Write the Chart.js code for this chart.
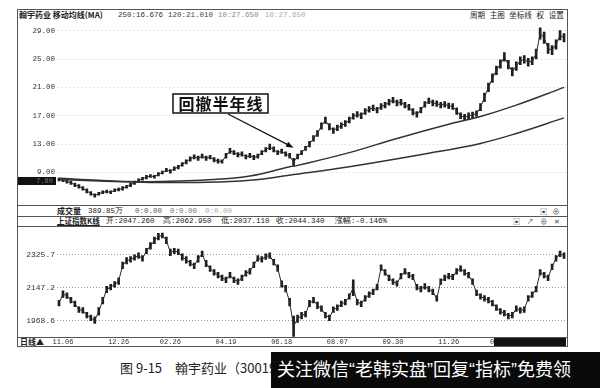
<!DOCTYPE html>
<html>
<head>
<meta charset="utf-8">
<script src="https://cdn.jsdelivr.net/npm/chart.js@4.4.1/dist/chart.umd.min.js"></script>
<style>
  body { margin: 0; width: 600px; height: 388px; background: #fff; position: relative; overflow: hidden;
         font-family: "Noto Sans CJK SC", sans-serif; color: #222; }
  .t { position: absolute; white-space: nowrap; line-height: 10px; }
  .m { font-family: "Liberation Mono", monospace; }
  .hl { position: absolute; left: 17px; width: 551px; height: 0; border-top: 1px solid #555; }
  canvas { position: absolute; }
</style>
</head>
<body>
<div style="position:absolute;left:17px;top:9px;width:551px;height:338px;border:1px solid #555;box-sizing:border-box"></div>
<div class="hl" style="top:205px"></div>
<div class="hl" style="top:216px"></div>
<div class="hl" style="top:226px"></div>
<div class="hl" style="top:337px"></div>

<!-- title row -->
<div class="t" style="left:19px;top:10px;font-size:8px;font-weight:bold">翰宇药业 移动均线(MA)</div>
<div class="t m" style="left:118px;top:10px;font-size:7.5px;color:#333">250:16.676</div>
<div class="t m" style="left:168px;top:10px;font-size:7.5px;color:#444">120:21.010</div>
<div class="t m" style="left:218px;top:10px;font-size:7.5px;color:#888">10:27.650</div>
<div class="t m" style="left:265px;top:10px;font-size:7.5px;color:#aaa">10:27.650</div>
<div class="t" style="left:470px;top:10px;font-size:7.5px;word-spacing:3px">周期 主图 坐标线 权 设置</div>

<!-- info rows -->
<div class="t" style="left:57px;top:206px;font-size:8px;font-weight:bold">成交量</div>
<div class="t m" style="left:88px;top:206px;font-size:7.5px">389.85万</div>
<div class="t m" style="left:135px;top:206px;font-size:7.5px;color:#555">0:0.00</div>
<div class="t m" style="left:170px;top:206px;font-size:7.5px;color:#777">0:0.00</div>
<div class="t m" style="left:205px;top:206px;font-size:7.5px;color:#aaa">0:0.00</div>
<div class="t" style="left:57px;top:216px;font-size:7.5px;font-weight:bold;text-decoration:underline">上证指数K线</div>
<div class="t m" style="left:106px;top:216px;font-size:7.5px">开:2047.260</div>
<div class="t m" style="left:163px;top:216px;font-size:7.5px">高:2062.950</div>
<div class="t m" style="left:221px;top:216px;font-size:7.5px">低:2037.110</div>
<div class="t m" style="left:276px;top:216px;font-size:7.5px">收:2044.340</div>
<div class="t m" style="left:335px;top:216px;font-size:7.5px">涨幅:-0.146%</div>
<div class="t" style="left:540px;top:206px;font-size:7px;color:#444;word-spacing:4px">▣ ⊕</div>
<div class="t" style="left:513px;top:216px;font-size:7px;color:#444;word-spacing:5px">▣ ↗ ⊕ ✕</div>

<!-- date row -->
<div class="t" style="left:20px;top:337px;font-size:8px;font-weight:bold">日线▲</div>

<canvas id="price" width="550" height="195" style="left:17px;top:10px"></canvas>
<canvas id="index" width="550" height="120" style="left:17px;top:226px"></canvas>
<div style="position:absolute;left:494px;top:338px;width:72px;height:8px;background:#111"></div>

<!-- caption -->
<div class="t" style="left:120px;top:361px;font-size:13px;line-height:14px">图 9-15　翰宇药业（300199）</div>
<div style="position:absolute;left:271px;top:352px;width:329px;height:36px;background:#0a0a0a;overflow:hidden">
  <div class="t" style="left:6px;top:8px;font-size:18px;line-height:20px;color:#fff;font-family:'Liberation Sans','Noto Sans CJK SC',sans-serif">关注微信“老韩实盘”回复“指标”免费领</div>
</div>

<script>
// trading-day slots across the panel
var N = 128;
var slots = Array.from({ length: N }, function (_, i) { return i; });

var dateTicks = ['11.06', '12.26', '02.26', '04.19', '06.18', '08.07', '09.30', '11.26', '01.13'];
var dateTickIdx = [1, 15, 28, 42, 56, 70, 84, 98, 111];

var priceTicks = [9, 13, 17, 21, 25, 29];
var indexTicks = [1968.6, 2147.2, 2325.7];

var priceHigh = [8.2, 8.1, 7.9, 7.8, 7.5, 7.3, 7.0, 6.7, 6.3, 6.0,
  6.2, 6.4, 6.5, 6.4, 6.7, 6.8, 7.0, 7.2, 7.5, 7.8,
  8.1, 8.3, 8.6, 8.7, 8.6, 9.0, 9.2, 9.6, 9.4, 9.8,
  10.0, 10.4, 10.8, 11.2, 11.5, 11.3, 11.6, 11.3, 11.4, 11.1,
  10.9, 10.8, 11.7, 12.4, 12.1, 11.8, 11.9, 11.5, 11.7, 11.4,
  11.6, 12.1, 12.5, 13.0, 12.6, 12.1, 12.3, 11.9, 11.7, 11.0,
  11.6, 12.1, 12.7, 13.4, 14.2, 14.9, 16.0, 16.8, 15.9, 15.3,
  15.7, 16.0, 16.3, 16.8, 17.3, 17.6, 17.4, 18.0, 18.3, 18.5,
  18.2, 18.7, 18.9, 19.3, 19.6, 19.2, 19.3, 18.9, 18.6, 18.0,
  17.6, 18.2, 19.0, 19.5, 19.2, 19.1, 18.9, 19.0, 18.8, 18.7,
  18.1, 17.4, 17.2, 17.4, 17.5, 17.7, 18.7, 20.2, 21.6, 22.9,
  24.0, 24.9, 25.9, 24.8, 23.8, 24.6, 25.3, 25.5, 25.1, 25.3,
  26.4, 29.4, 28.8, 27.2, 26.9, 27.7, 29.0, 28.6];
var priceLow = [7.8, 7.7, 7.5, 7.3, 7.0, 6.8, 6.5, 6.1, 5.8, 5.5,
  5.8, 6.0, 6.1, 6.0, 6.3, 6.4, 6.5, 6.8, 7.0, 7.3,
  7.7, 7.9, 8.1, 8.3, 8.2, 8.5, 8.8, 9.1, 8.9, 9.3,
  9.5, 9.9, 10.2, 10.6, 10.9, 10.7, 11.0, 10.7, 10.9, 10.5,
  10.3, 10.3, 11.0, 11.7, 11.5, 11.2, 11.3, 10.9, 11.1, 10.8,
  11.0, 11.5, 11.9, 12.2, 11.9, 11.5, 11.7, 11.3, 11.0, 9.9,
  10.9, 11.5, 12.1, 12.6, 13.4, 14.1, 15.1, 15.9, 15.0, 14.5,
  14.9, 15.2, 15.5, 16.0, 16.5, 16.8, 16.6, 17.2, 17.5, 17.7,
  17.4, 17.9, 18.1, 18.5, 18.8, 18.4, 18.5, 18.1, 17.8, 17.1,
  16.8, 17.4, 18.2, 18.7, 18.4, 18.3, 18.1, 18.2, 18.0, 17.9,
  17.2, 16.6, 16.4, 16.6, 16.7, 16.9, 17.7, 19.0, 20.4, 21.7,
  22.8, 23.7, 24.7, 23.6, 22.6, 23.4, 24.2, 24.4, 24.0, 24.2,
  25.0, 27.8, 27.2, 25.8, 25.6, 26.4, 27.7, 27.4];

// moving averages, read at a few slots
var ma120Idx = [0, 10, 20, 30, 39, 48, 58, 60, 73, 85, 98, 106, 115, 127];
var ma120 = [8.2, 7.9, 7.7, 7.8, 8.0, 8.5, 9.8, 10.0, 11.8, 13.8, 15.8, 16.9, 18.5, 21.0];
var ma250Idx = [0, 10, 23, 35, 48, 59, 73, 93, 106, 115, 127];
var ma250 = [8.0, 7.8, 7.6, 7.6, 7.9, 8.7, 9.8, 11.7, 13.1, 14.5, 16.7];

var markPrice = 7.80;
var noteIdx = 59, noteValue = 12.5;

var indexHigh = [2080, 2130, 2120, 2095, 2075, 2045, 2040, 2015, 2000, 1990,
  2040, 2095, 2155, 2165, 2180, 2200, 2285, 2310, 2315, 2325,
  2335, 2320, 2360, 2390, 2420, 2440, 2445, 2420, 2355, 2360,
  2355, 2330, 2315, 2295, 2280, 2320, 2345, 2295, 2265, 2245,
  2230, 2215, 2205, 2230, 2205, 2195, 2215, 2240, 2250, 2285,
  2320, 2315, 2330, 2335, 2300, 2270, 2185, 2160, 2090, 1995,
  2000, 2015, 2020, 2080, 2095, 2070, 2050, 2015, 2000, 2045,
  2055, 2075, 2085, 2115, 2190, 2085, 2075, 2105, 2125, 2140,
  2165, 2270, 2245, 2215, 2195, 2185, 2225, 2250, 2230, 2220,
  2165, 2155, 2170, 2155, 2140, 2105, 2195, 2215, 2225, 2220,
  2250, 2265, 2245, 2230, 2195, 2135, 2115, 2105, 2095, 2080,
  2055, 2035, 2025, 2010, 2015, 2050, 2040, 2045, 2105, 2125,
  2155, 2245, 2230, 2215, 2275, 2320, 2345, 2335];
var indexLow = [2050, 2095, 2090, 2065, 2045, 2015, 2010, 1985, 1970, 1955,
  2000, 2060, 2120, 2135, 2150, 2165, 2250, 2275, 2285, 2295,
  2305, 2290, 2330, 2355, 2385, 2405, 2415, 2385, 2320, 2330,
  2325, 2295, 2280, 2265, 2250, 2285, 2315, 2260, 2235, 2215,
  2200, 2185, 2175, 2200, 2175, 2165, 2185, 2210, 2220, 2255,
  2290, 2285, 2300, 2305, 2270, 2235, 2150, 2125, 2050, 1885,
  1960, 1980, 1990, 2045, 2065, 2035, 2020, 1985, 1970, 2015,
  2025, 2045, 2055, 2085, 2105, 2055, 2045, 2075, 2095, 2110,
  2135, 2240, 2215, 2185, 2165, 2155, 2195, 2220, 2200, 2190,
  2135, 2125, 2140, 2125, 2110, 2075, 2165, 2185, 2195, 2190,
  2220, 2235, 2215, 2200, 2165, 2105, 2085, 2075, 2065, 2050,
  2025, 2005, 1995, 1980, 1985, 2020, 2010, 2015, 2075, 2095,
  2125, 2215, 2200, 2185, 2245, 2290, 2315, 2305];

Chart.defaults.animation = false;
Chart.defaults.font.family = '"Liberation Mono", monospace';

function yAxis(min, max, ticks, digits, size, gridColor, dash) {
  return {
    min: min, max: max,
    afterFit: function (s) { s.width = 40; },
    afterBuildTicks: function (s) { s.ticks = ticks.map(function (v) { return { value: v }; }); },
    ticks: { padding: 2, color: '#333', font: { size: size }, callback: function (v) { return v.toFixed(digits); } },
    grid: { color: gridColor, drawTicks: false },
    border: { display: false, dash: dash }
  };
}

function maLine(idx, vals) {
  return {
    type: 'line',
    data: idx.map(function (x, k) { return { x: x, y: vals[k] }; }),
    borderColor: '#333', borderWidth: 1.5, pointRadius: 0, tension: 0.4, order: 1
  };
}

// candles: high-low bars plus a thin line through each bar's middle
function kDatasets(lo, hi) {
  return [
    { data: slots.map(function (i) { return [lo[i], hi[i]]; }),
      backgroundColor: '#1e1e1e', barThickness: 2, order: 3 },
    { type: 'line', data: slots.map(function (i) { return (lo[i] + hi[i]) / 2; }),
      borderColor: '#2a2a2a', borderWidth: 1, pointRadius: 0, order: 2 }
  ];
}

var halfYearNote = {
  id: 'halfYearNote',
  afterDatasetsDraw: function (chart) {
    var ctx = chart.ctx, x = chart.scales.x, y = chart.scales.y;
    ctx.save();
    // price marker on the axis
    var my = y.getPixelForValue(markPrice);
    ctx.fillStyle = '#111';
    ctx.fillRect(1, my - 4, 38, 8);
    ctx.fillStyle = '#777';
    ctx.font = '7px "Liberation Mono"';
    ctx.textAlign = 'right';
    ctx.textBaseline = 'middle';
    ctx.fillText(markPrice.toFixed(2), 36, my);

    // label box
    ctx.fillStyle = '#fff';
    ctx.fillRect(156, 84, 95, 19);
    ctx.strokeStyle = '#111';
    ctx.lineWidth = 1.5;
    ctx.strokeRect(156, 84, 95, 19);
    ctx.fillStyle = '#111';
    ctx.font = 'bold 16px "Noto Sans CJK SC"';
    ctx.textAlign = 'center';
    ctx.letterSpacing = '1px';
    ctx.fillText('回撤半年线', 204, 94);

    // arrow to the pullback
    var sx = 211, sy = 104;
    var tx = x.getPixelForValue(noteIdx), ty = y.getPixelForValue(noteValue);
    var a = Math.atan2(ty - sy, tx - sx);
    ctx.lineWidth = 1.2;
    ctx.beginPath();
    ctx.moveTo(sx, sy);
    ctx.lineTo(tx - 5 * Math.cos(a), ty - 5 * Math.sin(a));
    ctx.stroke();
    ctx.beginPath();
    ctx.moveTo(tx, ty);
    ctx.lineTo(tx - 8 * Math.cos(a - 0.35), ty - 8 * Math.sin(a - 0.35));
    ctx.lineTo(tx - 8 * Math.cos(a + 0.35), ty - 8 * Math.sin(a + 0.35));
    ctx.closePath();
    ctx.fill();
    ctx.restore();
  }
};

new Chart(document.getElementById('price'), {
  type: 'bar',
  data: {
    labels: slots,
    datasets: kDatasets(priceLow, priceHigh).concat([maLine(ma120Idx, ma120), maLine(ma250Idx, ma250)])
  },
  options: {
    responsive: false, devicePixelRatio: 1,
    layout: { padding: { top: 10, right: 1, left: 0, bottom: 0 } },
    plugins: { legend: { display: false }, tooltip: { enabled: false } },
    scales: {
      x: { display: false, offset: true },
      y: yAxis(5.33, 30.5, priceTicks, 2, 7.5, '#cfcfcf', [1, 3])
    }
  },
  plugins: [halfYearNote]
});

new Chart(document.getElementById('index'), {
  type: 'bar',
  data: {
    labels: slots,
    datasets: kDatasets(indexLow, indexHigh)
  },
  options: {
    responsive: false, devicePixelRatio: 1,
    layout: { padding: { top: 1, right: 1, left: 0, bottom: 0 } },
    plugins: { legend: { display: false }, tooltip: { enabled: false } },
    scales: {
      x: {
        offset: true,
        afterFit: function (s) { s.height = 9; },
        afterBuildTicks: function (s) { s.ticks = dateTickIdx.map(function (v) { return { value: v }; }); },
        ticks: { autoSkip: false, maxRotation: 0, minRotation: 0, padding: 1, color: '#333', font: { size: 7 },
                 callback: function (v) { return dateTicks[dateTickIdx.indexOf(v)]; } },
        grid: { display: false, drawTicks: false },
        border: { display: false }
      },
      y: yAxis(1882, 2443, indexTicks, 1, 8, '#999', [1, 2])
    }
  }
});
</script>
</body>
</html>
